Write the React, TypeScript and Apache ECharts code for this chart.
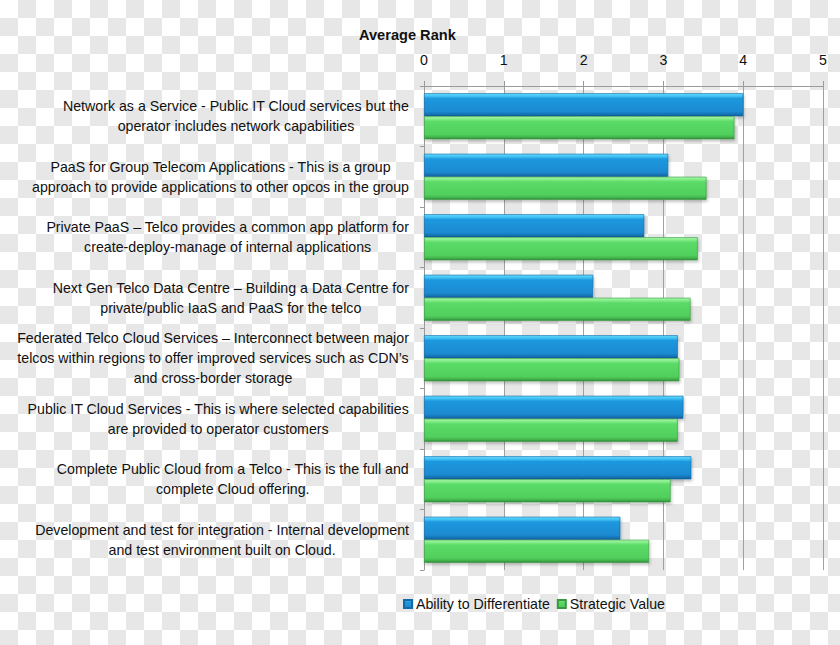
import React, { useEffect, useRef } from "react";
import * as echarts from "echarts";

const categories: string[] = [
  "Network as a Service - Public IT Cloud services but the\noperator includes network capabilities",
  "PaaS for Group Telecom Applications - This is a group\napproach to provide applications to other opcos in the group",
  "Private PaaS – Telco provides a common app platform for\ncreate-deploy-manage of internal applications",
  "Next Gen Telco Data Centre – Building a Data Centre for\nprivate/public IaaS and PaaS for the telco",
  "Federated Telco Cloud Services – Interconnect between major\ntelcos within regions to offer improved services such as CDN’s\nand cross-border storage",
  "Public IT Cloud Services - This is where selected capabilities\nare provided to operator customers",
  "Complete Public Cloud from a Telco - This is the full and\ncomplete Cloud offering.",
  "Development and test for integration - Internal development\nand test environment built on Cloud.",
];

const seriesNames = ["Ability to Differentiate", "Strategic Value"];
const abilityToDifferentiate = [4.0, 3.06, 2.76, 2.12, 3.18, 3.25, 3.35, 2.46];
const strategicValue = [3.89, 3.54, 3.43, 3.34, 3.2, 3.18, 3.09, 2.82];

const axisMin = 0;
const axisMax = 5;
const axisInterval = 1;
const title = "Average Rank";

const FONT = "'Liberation Sans', Arial, sans-serif";

function grad(stops: [number, string][]) {
  return new echarts.graphic.LinearGradient(
    0, 0, 0, 1,
    stops.map(([offset, color]) => ({ offset, color }))
  );
}

export default function App() {
  const ref = useRef<HTMLDivElement>(null);

  useEffect(() => {
    if (!ref.current) return;
    const chart = echarts.init(ref.current, undefined, { renderer: "svg" });

    const blue = grad([
      [0, "#66daff"],
      [0.12, "#3ec0f4"],
      [0.22, "#1f98de"],
      [0.8, "#1b8ad1"],
      [0.92, "#1674b6"],
      [1, "#0f5c95"],
    ]);
    const green = grad([
      [0, "#a8f8a8"],
      [0.12, "#80ea85"],
      [0.22, "#5bdb67"],
      [0.8, "#51cf5d"],
      [0.92, "#43b24d"],
      [1, "#2f8a38"],
    ]);

    chart.setOption({
      animation: false,
      backgroundColor: "transparent",
      title: {
        text: title,
        left: 354,
        top: 22,
        textStyle: { fontFamily: FONT, fontSize: 14.6, fontWeight: "bold", color: "#111" },
      },
      legend: {
        top: 592,
        left: 398,
        itemWidth: 8,
        itemHeight: 8,
        itemGap: 7,
        icon: "rect",
        textStyle: { fontFamily: FONT, fontSize: 14.2, color: "#111", padding: [0, 0, 0, -1] },
        data: seriesNames,
      },
      grid: { left: 424, right: 17, top: 86, bottom: 75, containLabel: false },
      xAxis: {
        type: "value",
        position: "top",
        min: axisMin,
        max: axisMax,
        interval: axisInterval,
        axisLine: { show: true, lineStyle: { color: "#9a9a9a", width: 1 } },
        axisTick: { show: true, length: 5, lineStyle: { color: "#9a9a9a" } },
        axisLabel: { margin: 19, fontFamily: FONT, fontSize: 14.2, color: "#111" },
        splitLine: { show: true, lineStyle: { color: "#a0a0a0", width: 1 } },
      },
      yAxis: {
        type: "category",
        inverse: true,
        data: categories,
        axisLine: { show: true, lineStyle: { color: "#9a9a9a" } },
        axisTick: { show: true, length: 4, alignWithLabel: false, lineStyle: { color: "#9a9a9a" } },
        axisLabel: {
          margin: 15,
          interval: 0,
          fontFamily: FONT,
          fontSize: 14.2,
          color: "#111",
          lineHeight: 20,
          formatter: (v: string) => v.split("\n").map((l) => `{c|${l}}`).join("\n"),
          rich: {
            c: { align: "center", fontFamily: FONT, fontSize: 14.2, color: "#111", lineHeight: 20 },
          },
        },
        splitLine: { show: false },
      },
      series: [
        {
          name: seriesNames[0],
          type: "bar",
          data: abilityToDifferentiate,
          barGap: "0%",
          barCategoryGap: "24%",
          itemStyle: {
            color: blue,
            borderColor: "#1269a6",
            borderWidth: 0.6,
            shadowColor: "rgba(0,0,0,0.25)",
            shadowBlur: 3,
            shadowOffsetX: 1,
            shadowOffsetY: 2,
          },
        },
        {
          name: seriesNames[1],
          type: "bar",
          data: strategicValue,
          barGap: "0%",
          barCategoryGap: "24%",
          itemStyle: {
            color: green,
            borderColor: "#379a40",
            borderWidth: 0.6,
            shadowColor: "rgba(0,0,0,0.25)",
            shadowBlur: 3,
            shadowOffsetX: 1,
            shadowOffsetY: 2,
          },
        },
      ],
    });

    return () => chart.dispose();
  }, []);

  return (
    <div
      style={{
        position: "absolute",
        left: 0,
        top: 0,
        width: 840,
        height: 645,
        background: "repeating-conic-gradient(#e7e7e7 0% 25%, #ffffff 0% 50%) 0 0 / 36px 36px",
      }}
    >
      <div ref={ref} style={{ width: 840, height: 645 }} />
    </div>
  );
}
